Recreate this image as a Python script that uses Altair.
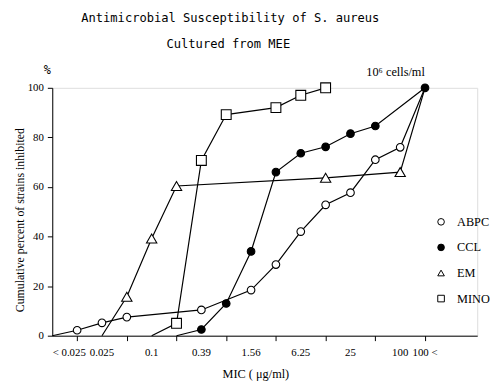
import altair as alt
import pandas as pd

# MIC tick positions (index along the doubling-dilution axis)
tick_pos = list(range(1, 16))
label_pos = [2, 4, 6, 8, 10, 12, 14, 15]
label_txt = ["0.025", "0.1", "0.39", "1.56", "6.25", "25", "100", "100 <"]
first_label_pos = [1]
first_label_txt = ["< 0.025"]

series_names = ["ABPC", "CCL", "EM", "MINO"]

abpc_x = [0, 1, 2, 3, 6, 8, 9, 10, 11, 12, 13, 14, 15]
abpc_y = [0, 2.2, 5.2, 7.5, 10.4, 18.4, 28.7, 42, 52.8, 57.7, 71, 76, 100]
abpc_m = [0, 1, 1, 1, 1, 1, 1, 1, 1, 1, 1, 1, 0]

ccl_x = [5, 6, 7, 8, 9, 10, 11, 12, 13, 15]
ccl_y = [0, 2.5, 13, 34, 66, 73.6, 76.2, 81.5, 84.6, 100]
ccl_m = [0, 1, 1, 1, 1, 1, 1, 1, 1, 1]

em_x = [2, 3, 4, 5, 11, 14, 15]
em_y = [0, 15.7, 39.2, 60.4, 63.7, 66, 100]
em_m = [0, 1, 1, 1, 1, 1, 0]

mino_x = [4, 5, 6, 7, 9, 10, 11]
mino_y = [0, 5, 70.7, 89.2, 92, 97, 100]
mino_m = [0, 1, 1, 1, 1, 1, 1]

rows = []
for name, xs, ys, ms in [("ABPC", abpc_x, abpc_y, abpc_m), ("CCL", ccl_x, ccl_y, ccl_m),
                         ("EM", em_x, em_y, em_m), ("MINO", mino_x, mino_y, mino_m)]:
    for i, (a, b, m) in enumerate(zip(xs, ys, ms)):
        rows.append({"series": name, "k": a, "v": b, "marker": m, "order": i})
df = pd.DataFrame(rows)

serif = "Liberation Serif"
mono = "DejaVu Sans Mono"

x_scale = alt.Scale(domain=[0, 17.1], nice=False, zero=False)

x_enc = alt.X("k:Q", scale=x_scale,
              axis=alt.Axis(values=tick_pos, labels=False, title=None,
                            tickSize=5, tickColor="black", domainColor="black", grid=False))
y_enc = alt.Y("v:Q", scale=alt.Scale(domain=[0, 100], nice=False),
              axis=alt.Axis(values=[0, 20, 40, 60, 80, 100], title="Cumulative percent of strains inhibited",
                            titleFont=serif, titleFontSize=12, titleFontWeight="normal",
                            titleX=-33, titleY=134, titleBaseline="middle", titleAlign="center",
                            labelFont=serif, labelFontSize=11, labelPadding=4,
                            tickSize=5, tickColor="black", domainColor="black",
                            labelColor="black", titleColor="black", grid=False))

lines = alt.Chart(df).mark_line(color="black", strokeWidth=1.2).encode(
    x=x_enc, y=y_enc, detail="series:N", order="order:Q")

leg = alt.Legend(title=None, orient="none", legendX=389, legendY=130,
                 labelFont=serif, labelFontSize=12.5, labelColor="black",
                 symbolSize=45, rowPadding=13, labelOffset=10,
                 symbolStrokeWidth=1, symbolOpacity=1)

points = alt.Chart(df).transform_filter("datum.marker == 1").transform_calculate(
    msize="datum.series == 'EM' ? 110 : (datum.series == 'MINO' ? 100 : 60)"
).mark_point(strokeWidth=1.1, opacity=1, filled=True, fillOpacity=1).encode(
    x="k:Q", y="v:Q",
    shape=alt.Shape("series:N", scale=alt.Scale(domain=series_names,
                                                range=["circle", "circle", "triangle-up", "square"]),
                    legend=leg),
    fill=alt.Fill("series:N", scale=alt.Scale(domain=series_names,
                                              range=["white", "black", "white", "white"]),
                  legend=leg),
    stroke=alt.Stroke("series:N", scale=alt.Scale(domain=series_names,
                                                  range=["black", "black", "black", "black"]),
                      legend=leg),
    size=alt.Size("msize:Q", scale=None),
)

xlab_df = pd.DataFrame({"k": label_pos, "t": label_txt})
xlabels = alt.Chart(xlab_df).mark_text(
    font=serif, fontSize=11, color="black", align="center", baseline="middle").encode(
    x="k:Q", text="t:N", y=alt.value(270))

xlab0_df = pd.DataFrame({"k": first_label_pos, "t": first_label_txt})
xlabel0 = alt.Chart(xlab0_df).mark_text(
    font=serif, fontSize=11, color="black", align="center", baseline="middle", dx=-8).encode(
    x="k:Q", text="t:N", y=alt.value(270))

xtitle = alt.Chart(pd.DataFrame({"t": ["MIC ( \u03bcg/ml)"]})).mark_text(
    font=serif, fontSize=12.5, color="black", align="center", baseline="middle").encode(
    text="t:N", x=alt.value(207), y=alt.value(291))

pct = alt.Chart(pd.DataFrame({"t": ["%"]})).mark_text(
    font=mono, fontSize=12, color="black", align="center", baseline="middle").encode(
    text="t:N", x=alt.value(-5), y=alt.value(-18))

cells = alt.Chart(pd.DataFrame({"t": ["10\u2076 cells/ml"]})).mark_text(
    font=serif, fontSize=12.5, color="black", align="center", baseline="middle").encode(
    text="t:N", x=alt.value(349), y=alt.value(-16))

title1 = alt.Chart(pd.DataFrame({"t": ["Antimicrobial Susceptibility of S. aureus"]})).mark_text(
    font=mono, fontSize=12.3, color="black", align="center", baseline="middle").encode(
    text="t:N", x=alt.value(181), y=alt.value(-71))

title2 = alt.Chart(pd.DataFrame({"t": ["Cultured from MEE"]})).mark_text(
    font=mono, fontSize=12.3, color="black", align="center", baseline="middle").encode(
    text="t:N", x=alt.value(179), y=alt.value(-44))

chart = alt.layer(lines, points, xlabels, xlabel0, xtitle, pct, cells, title1, title2).properties(
    width=432, height=252,
    autosize=alt.AutoSizeParams(type="none"),
    padding={"left": 45, "top": 78, "right": 13, "bottom": 49},
).configure_view(stroke=None).configure(background="white")

chart.save("out.html", embed_options={"renderer": "svg", "actions": False})
